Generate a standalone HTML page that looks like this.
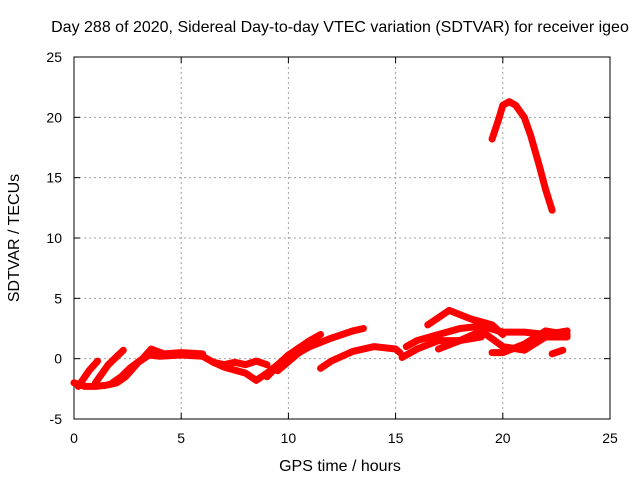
<!DOCTYPE html>
<html><head><meta charset="utf-8"><style>
body{margin:0;background:#fff}
svg{display:block;font-family:"Liberation Sans",sans-serif}
</style></head><body>
<svg id="chart" width="640" height="480">
<text x="340" y="32" text-anchor="middle" font-size="16">Day 288 of 2020, Sidereal Day-to-day VTEC variation (SDTVAR) for receiver igeo</text>
<g id="grid"></g>
<g id="axes"></g>
<g id="series"></g>
<text x="340" y="471" text-anchor="middle" font-size="16">GPS time / hours</text>
<text transform="translate(19,238) rotate(-90)" text-anchor="middle" font-size="16">SDTVAR / TECUs</text>
</svg>
<script>
const xTicks=[0,5,10,15,20,25];
const yTicks=[-5,0,5,10,15,20,25];
const tracks=[
[[0,-2],[0.5,-2.3],[1,-2.3],[1.5,-2.2],[2,-2],[2.4,-1.5],[3,-0.3],[3.5,0.3],[4,0.2],[5,0.3],[6,0.2],[6.5,-0.3],[7,-0.5],[7.5,-0.3],[8,-0.5],[8.5,-0.2],[9,-0.5]],
[[0.2,-2.3],[0.7,-1],[1.1,-0.2]],
[[1,-2],[1.6,-0.5],[2.3,0.7]],
[[1.8,-2],[2.2,-1.5],[2.6,-0.8],[3.2,0],[3.6,0.8],[4.2,0.4],[5,0.5],[6,0.4]],
[[6.5,-0.3],[7,-0.7],[8,-1.2],[8.5,-1.8],[9,-1.2],[9.5,-0.5],[10,0.3],[10.5,0.5]],
[[9,-1.5],[9.5,-0.6],[10,0.3],[11,1.5],[11.5,2]],
[[9.5,-1],[10.5,0.5],[11,1],[12,1.7],[13,2.3],[13.5,2.5]],
[[11.5,-0.8],[12,-0.2],[13,0.6],[14,1],[15,0.8],[15.2,0.5]],
[[15.3,0.1],[16,0.8],[17,1.5],[18,1.5],[19,1.8]],
[[15.5,1],[16,1.5],[17,2],[18,2.5],[19,2.7],[20,2.2],[21,2.2],[22,2],[23,2.3]],
[[16.5,2.8],[17.5,4],[18.5,3.3],[19.5,2.8],[20,2]],
[[17,0.8],[18,1.5],[19,2.3],[20,1],[21,0.7],[22,1.8],[23,1.8]],
[[19.5,0.5],[20,0.5],[21,1.2],[22,2.3],[23,2]],
[[22.3,0.4],[22.8,0.7]],
[[19.5,18.2],[19.8,19.8],[20,21],[20.3,21.3],[20.6,21],[21,20],[21.3,18.5],[21.7,16],[22,14],[22.3,12.3]]
];
const X0=74,X1=610,Y0=419,Y1=57;
const sx=v=>X0+(v-0)/25*(X1-X0);
const sy=v=>Y0-(v+5)/30*(Y0-Y1);
const NS='http://www.w3.org/2000/svg';
function mk(tag,attrs,parent){const e=document.createElementNS(NS,tag);for(const k in attrs)e.setAttribute(k,attrs[k]);parent.appendChild(e);return e;}
const grid=document.getElementById('grid'),axes=document.getElementById('axes'),ser=document.getElementById('series');
xTicks.forEach(t=>{
  if(t>0&&t<25){const l=mk('line',{x1:sx(t),x2:sx(t),y1:Y1,y2:Y0,stroke:'#a0a0a0','stroke-dasharray':'2,3'},grid);
  
  }
  mk('line',{x1:sx(t),x2:sx(t),y1:Y0,y2:Y0-6,stroke:'#000'},axes);
  mk('line',{x1:sx(t),x2:sx(t),y1:Y1,y2:Y1+6,stroke:'#000'},axes);
  const tx=mk('text',{x:sx(t),y:Y0+24,'text-anchor':'middle','font-size':14},axes);tx.textContent=t;
  
  
});
yTicks.forEach(t=>{
  if(t>-5&&t<25){const l=mk('line',{x1:X0,x2:X1,y1:sy(t),y2:sy(t),stroke:'#a0a0a0','stroke-dasharray':'2,3'},grid);
  
  }
  mk('line',{x1:X0,x2:X0+6,y1:sy(t),y2:sy(t),stroke:'#000'},axes);
  mk('line',{x1:X1,x2:X1-6,y1:sy(t),y2:sy(t),stroke:'#000'},axes);
  const tx=mk('text',{x:X0-12,y:sy(t)+5,'text-anchor':'end','font-size':14},axes);tx.textContent=t;
  
  
});
mk('rect',{x:X0,y:Y1,width:X1-X0,height:Y0-Y1,fill:'none',stroke:'#000'},axes);
tracks.forEach(tr=>{
  const p=mk('polyline',{points:tr.map(d=>sx(d[0])+','+sy(d[1])).join(' '),fill:'none',stroke:'#ff0000','stroke-width':7,'stroke-linejoin':'round','stroke-linecap':'round'},ser);
  
  
});
</script>
</body></html>
